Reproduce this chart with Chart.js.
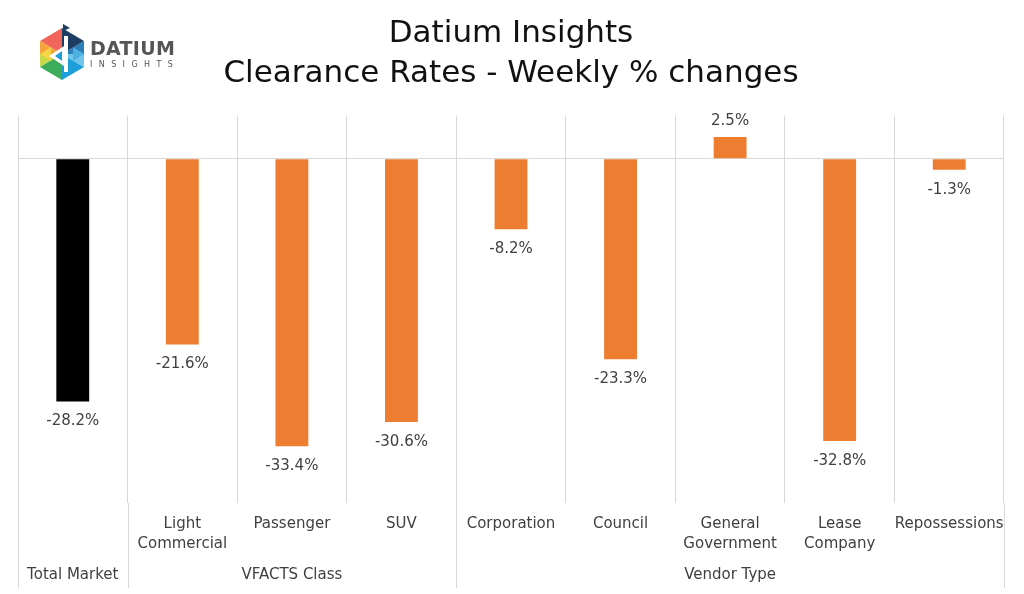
<!DOCTYPE html>
<html>
<head>
<meta charset="utf-8">
<script src="https://cdn.jsdelivr.net/npm/chart.js@4"></script>
<style>
  html, body { margin: 0; padding: 0; background: #fff; }
  #wrap { position: relative; width: 1024px; height: 594px; }
  #logo { position: absolute; left: 36px; top: 24px; }
  .brand { position: absolute; left: 90px; top: 38px; font-family: 'DejaVu Sans', sans-serif; color: #555; }
  .brand .big { font-size: 19px; font-weight: bold; letter-spacing: 0.3px; line-height: 21px; }
  .brand .small { font-size: 8px; letter-spacing: 6.4px; line-height: 10px; margin-top: 1px; }
</style>
</head>
<body>
<div id="wrap">
  <canvas id="chart" width="1024" height="594"></canvas>
  <svg id="logo" width="54" height="62" viewBox="0 0 54 62">
    <!-- hexagon split into coloured triangles, centre (26,30) -->
    <polygon points="26,30 26,4 4,17" fill="#f2655a"/>
    <polygon points="26,30 4,17 4,30" fill="#f7a33b"/>
    <polygon points="26,30 4,30 4,43" fill="#c7d84a"/>
    <polygon points="26,30 4,43 26,56" fill="#3cab5a"/>
    <polygon points="26,30 26,56 48,43" fill="#1e9fd9"/>
    <polygon points="26,30 48,43 48,30" fill="#6ec6ea"/>
    <polygon points="26,30 48,30 48,17" fill="#2a7fb8"/>
    <polygon points="26,30 48,17 26,4" fill="#1d3d63"/>
    <polygon points="15,23 4,30 15,37" fill="#f5d547"/>
    <polygon points="37,23 48,30 37,37" fill="#4db0e0"/>
    <!-- white "d" shape -->
    <polygon points="28,12 32,12 32,48 28,48" fill="#ffffff"/>
    <polygon points="28,22 13,32 28,42" fill="#ffffff"/>
    <polygon points="26,27 19,32 26,37" fill="#1e9fd9"/>
    <polygon points="27,0 34,4 27,7" fill="#1d3d63"/>
  </svg>
  <div class="brand">
    <div class="big">DATIUM</div>
    <div class="small">INSIGHTS</div>
  </div>
</div>
<script>
// Categories and values
const categories = ['Total Market', 'Light Commercial', 'Passenger', 'SUV', 'Corporation',
  'Council', 'General Government', 'Lease Company', 'Repossessions'];
const tickLines = [[''], ['Light', 'Commercial'], ['Passenger'], ['SUV'], ['Corporation'],
  ['Council'], ['General', 'Government'], ['Lease', 'Company'], ['Repossessions']];
const values = [-28.2, -21.6, -33.4, -30.6, -8.2, -23.3, 2.5, -32.8, -1.3];

// Group row under the category labels
const groupLabels = ['Total Market', 'VFACTS Class', 'Vendor Type'];
const groupStart = [0, 1, 4];
const groupEnd = [0, 3, 8];

const titleLines = ['Datium Insights', 'Clearance Rates - Weekly % changes'];

const FONT = "'DejaVu Sans', sans-serif";
const ORANGE = '#ed7d31';
const GRID = '#d9d9d9';

const barColors = values.map((v, i) => i === 0 ? '#000000' : ORANGE);

// Draws value labels, category labels, group labels and the separators below the plot
const labelsPlugin = {
  id: 'labels',
  afterDraw(chart) {
    const ctx = chart.ctx;
    const xs = chart.scales.x;
    const area = chart.chartArea;
    const meta = chart.getDatasetMeta(0);

    ctx.save();
    // value labels
    ctx.font = '15px ' + FONT;
    ctx.fillStyle = '#404040';
    ctx.textAlign = 'center';
    ctx.textBaseline = 'middle';
    meta.data.forEach((bar, i) => {
      const v = values[i];
      const y = v < 0 ? bar.y + 20 : bar.y - 16;
      ctx.fillText(v.toFixed(1) + '%', bar.x, y);
    });

    // category labels
    tickLines.forEach((lines, i) => {
      const x = xs.getPixelForValue(i);
      lines.forEach((t, k) => ctx.fillText(t, x, 524 + k * 20));
    });

    // group labels
    groupLabels.forEach((g, i) => {
      const x = (xs.getPixelForValue(groupStart[i]) + xs.getPixelForValue(groupEnd[i])) / 2;
      ctx.fillText(g, x, 575);
    });

    // separators between groups extend down through the label rows
    const half = (xs.getPixelForValue(1) - xs.getPixelForValue(0)) / 2;
    ctx.strokeStyle = GRID;
    ctx.lineWidth = 1;
    const bounds = groupStart.concat([categories.length]);
    bounds.forEach(b => {
      const x = Math.round(xs.getPixelForValue(b) - half) + 0.5;
      ctx.beginPath();
      ctx.moveTo(x, area.bottom);
      ctx.lineTo(x, 588);
      ctx.stroke();
    });
    ctx.restore();
  }
};

new Chart(document.getElementById('chart'), {
  type: 'bar',
  data: {
    labels: categories,
    datasets: [{
      data: values,
      backgroundColor: barColors,
      borderWidth: 0,
      barPercentage: 0.3,
      categoryPercentage: 1.0
    }]
  },
  options: {
    responsive: false,
    animation: false,
    devicePixelRatio: 1,
    layout: { padding: { left: 18, right: 20, top: 0, bottom: 91 } },
    plugins: {
      legend: { display: false },
      tooltip: { enabled: false },
      title: {
        display: true,
        text: titleLines,
        color: '#111',
        font: { family: FONT, size: 31, weight: 'normal', lineHeight: 1.3 },
        padding: { top: 14, bottom: 21 }
      }
    },
    scales: {
      x: {
        grid: { offset: true, color: GRID, drawTicks: false },
        border: { display: false },
        ticks: { display: false }
      },
      y: {
        min: -40,
        max: 5,
        ticks: { display: false, stepSize: 5 },
        border: { display: false },
        grid: {
          drawTicks: false,
          color: c => c.tick && c.tick.value === 0 ? GRID : 'rgba(0,0,0,0)'
        }
      }
    }
  },
  plugins: [labelsPlugin]
});
</script>
</body>
</html>
